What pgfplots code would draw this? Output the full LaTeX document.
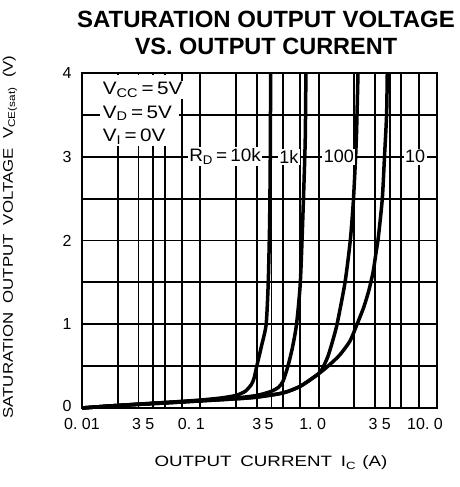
\documentclass[border=0pt]{standalone}
\usepackage{fontspec}
\setmainfont{Liberation Sans}
\usepackage{graphicx}
\usepackage{pgfplots}
\pgfplotsset{compat=1.18}

\pgfplotstableread{
x y
0.01 0
0.02 0.03
0.05 0.065
0.1 0.095
0.15 0.12
0.2 0.15
0.24 0.2
0.27 0.28
0.285 0.36
0.3 0.5
0.33 0.75
0.36 1.0
0.375 1.5
0.385 2.2
0.39 3.0
0.393 4
}\tenk
\pgfplotstableread{
x y
0.01 0
0.02 0.03
0.05 0.065
0.1 0.09
0.2 0.12
0.3 0.15
0.4 0.2
0.46 0.25
0.5 0.32
0.55 0.5
0.6 0.72
0.65 1.0
0.7 1.5
0.74 2.4
0.77 3.2
0.78 4
}\onek
\pgfplotstableread{
x y
0.01 0
0.02 0.03
0.05 0.06
0.1 0.085
0.2 0.11
0.3 0.13
0.5 0.18
0.7 0.26
1.0 0.41
1.1 0.5
1.2 0.62
1.3 0.78
1.43 1.0
1.67 1.5
1.85 2.0
1.97 2.5
2.08 3.2
2.15 4
}\hundred
\pgfplotstableread{
x y
0.01 0
0.02 0.03
0.05 0.06
0.1 0.085
0.2 0.11
0.3 0.13
0.5 0.18
0.7 0.26
1.0 0.41
1.2 0.5
1.5 0.63
1.84 0.8
2.11 1.0
2.4 1.2
2.65 1.4
2.88 1.62
3.05 1.85
3.2 2.05
3.45 2.5
3.6 3.0
3.75 3.5
3.8 4
}\ten

\begin{document}
\begin{tikzpicture}
\begin{axis}[
  scale only axis, width=355pt, height=335pt,
  xmode=log, xmin=0.01, xmax=10, ymin=0, ymax=4,
  xtick={0.01,0.03,0.05,0.1,0.3,0.5,1,3,5,10},
  xticklabels={0.\ 01, 3\hspace*{4pt}, 5\hspace*{30pt}, 0.\ 1\hspace*{18pt}, 3, 5\hspace*{28pt}, 1.\ 0\hspace*{12pt}, 3\hspace*{4pt}, 5\hspace*{30pt}, 10.\ 0\hspace*{24pt}},
  minor xtick={0.02,0.04,0.07,0.2,0.4,0.7,2,4,7},
  ytick={0,1,2,3,4}, yticklabels={\raisebox{4pt}{0},1,2,3,4},
  minor ytick={0.5,1.5,2.5,3.5},
  grid=both,
  major grid style={black, line width=1.8pt},
  minor grid style={black, line width=1.8pt},
  major tick length=0pt, minor tick length=0pt,
  axis line style={line width=2.6pt},
  ticklabel style={font=\fontsize{16}{16}\selectfont},
  yticklabel style={xshift=-7pt},
  xticklabel style={yshift=-7pt},
  /pgf/number format/assume math mode=true,
  clip=false,
]
\addplot[black, line width=3.5pt, smooth, tension=0.4] table {\tenk};
\addplot[black, line width=3.5pt, smooth, tension=0.4] table {\onek};
\addplot[black, line width=3.5pt, smooth, tension=0.4] table {\hundred};
\addplot[black, line width=3.5pt, smooth, tension=0.4] table {\ten};
\fill[white] (axis cs:0.0142,3.16) rectangle (axis cs:0.066,3.975);
\begin{scope}[every node/.style={font=\fontsize{18}{18}\selectfont, fill=white, inner sep=1.5pt, anchor=west}]
\node at (axis cs:0.0145,3.80) {\scalebox{1.15}[1]{V\textsubscript{CC}\,=\,5V}};
\node at (axis cs:0.0145,3.52) {\scalebox{1.15}[1]{V\textsubscript{D}\,=\,5V}};
\node at (axis cs:0.0145,3.24) {\scalebox{1.15}[1]{V\textsubscript{I}\,=\,0V}};
\node at (axis cs:0.078,3.0) {\scalebox{1.05}[1]{R\textsubscript{D}\,=\,10k}};
\node at (axis cs:0.45,3.0) {1k};
\node at (axis cs:1.07,3.0) {100};
\node at (axis cs:5.2,3.0) {10};
\end{scope}
\end{axis}
\begin{scope}[shift={(current axis.south west)}]
\node[font=\bfseries\fontsize{23.5}{24}\selectfont] at (184pt,389pt) {\scalebox{1.02}[1]{SATURATION OUTPUT VOLTAGE}};
\node[font=\bfseries\fontsize{23.5}{24}\selectfont] at (184pt,362pt) {VS. OUTPUT CURRENT};
\node[rotate=90, font=\fontsize{14}{14}\selectfont] at (-72pt,171pt) {\scalebox{1.2}[1]{SATURATION\ \ OUTPUT\ \ VOLTAGE\ \ V\textsubscript{CE(sat)}\ \ (V)}};
\node[font=\fontsize{15}{15}\selectfont] at (189pt,-55pt) {\scalebox{1.25}[1]{OUTPUT\hspace{7pt}CURRENT\hspace{7pt}I\textsubscript{C}\hspace{5pt}(A)}};
\end{scope}
\pgfresetboundingbox
\path (current axis.south west) ++(-82pt,-79pt) rectangle ++(460pt,487pt);
\end{tikzpicture}
\end{document}
